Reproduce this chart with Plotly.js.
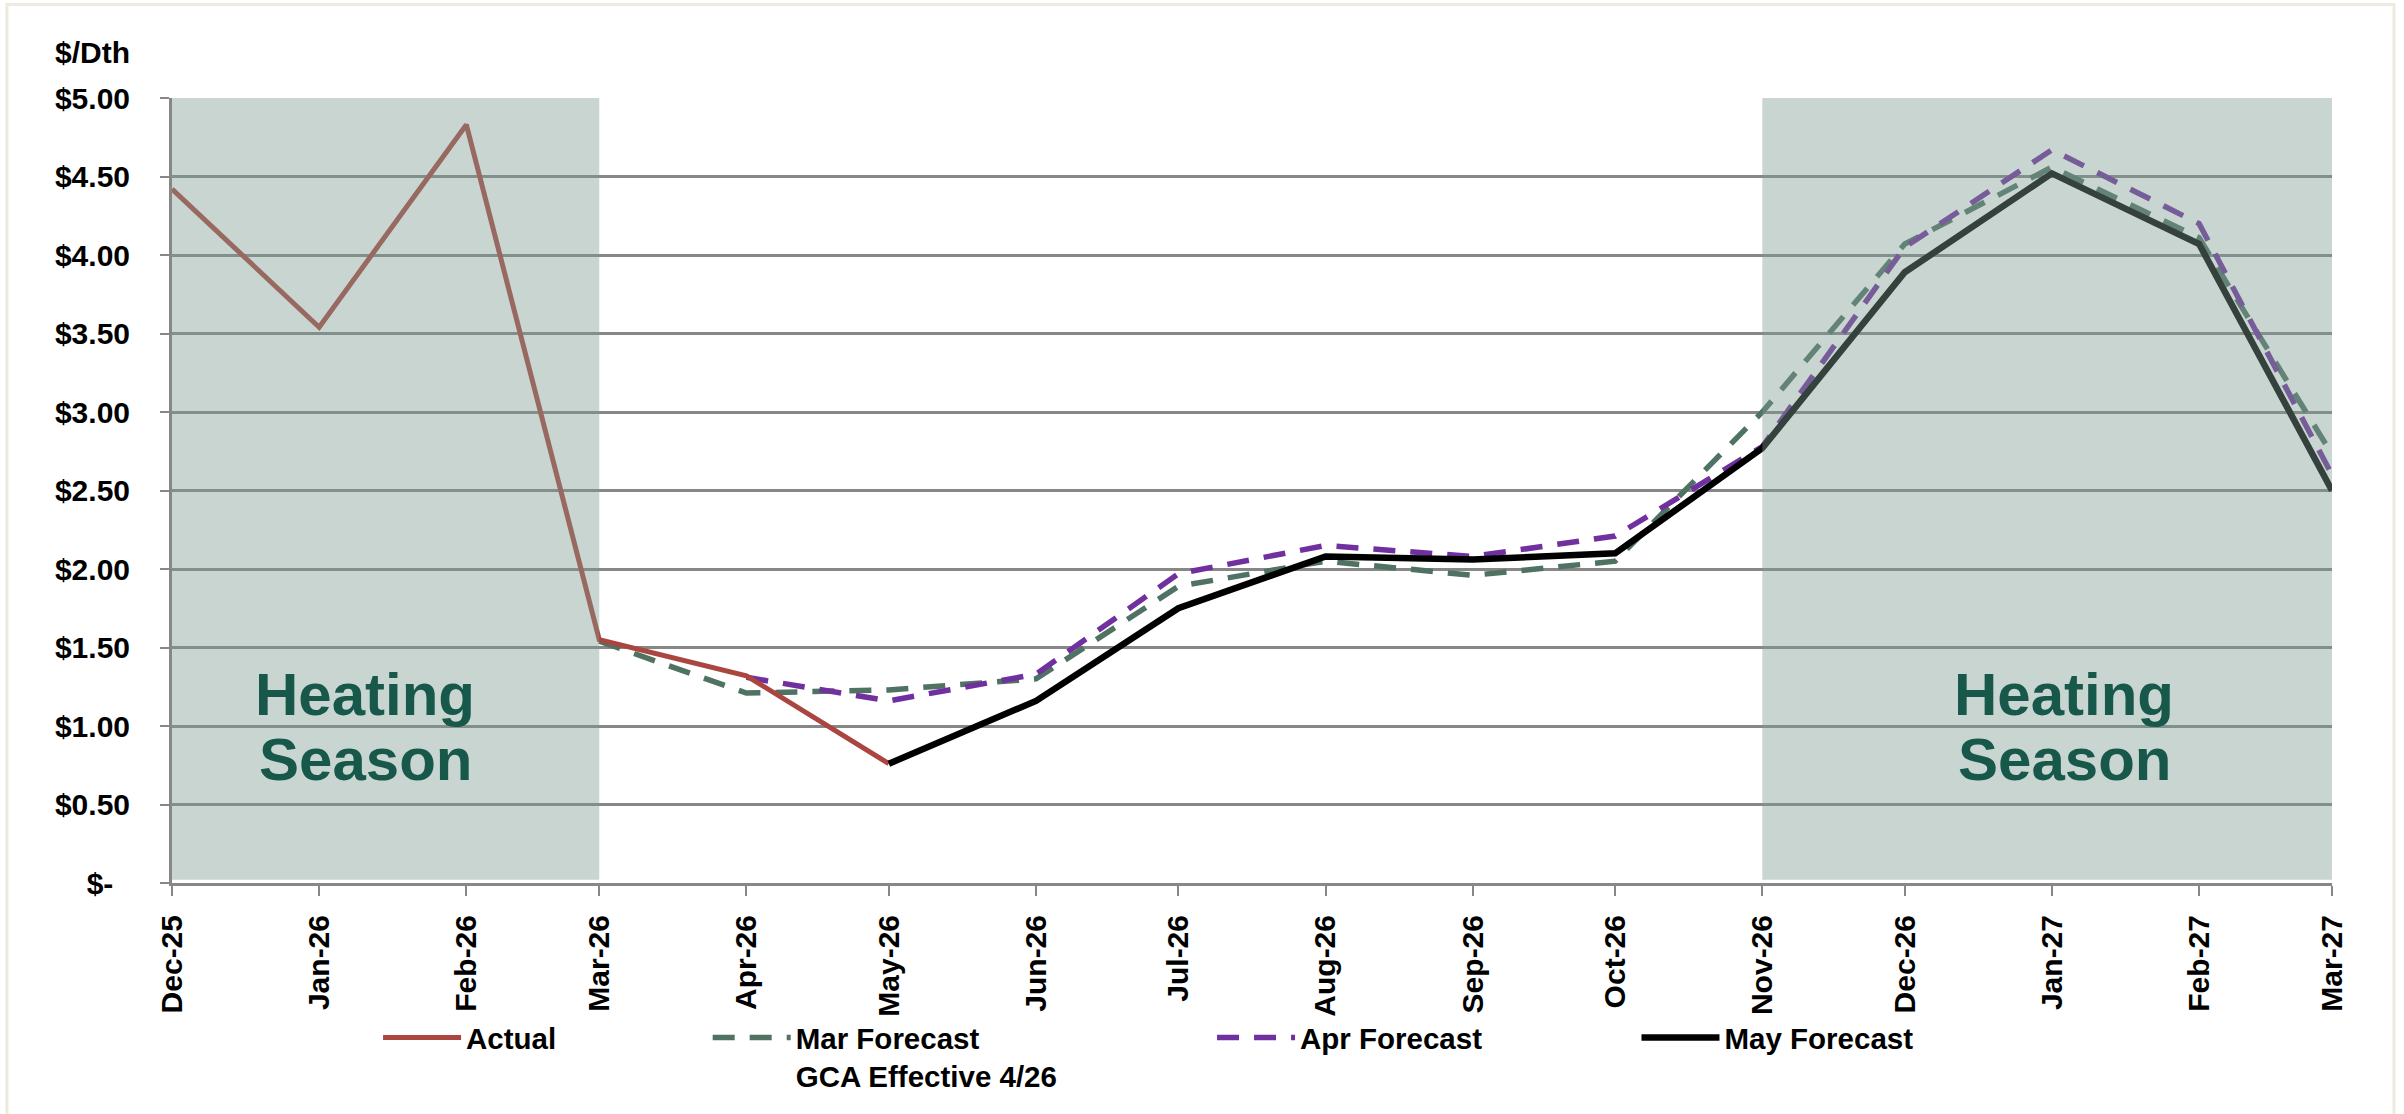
<!DOCTYPE html>
<html>
<head>
<meta charset="utf-8">
<script src="https://cdn.plot.ly/plotly-3.0.1.min.js"></script>
<style>
  html, body { margin: 0; padding: 0; background: #ffffff; }
  #chart { width: 2404px; height: 1114px; }
</style>
</head>
<body>
<div id="chart"></div>
<script>
// ---- Data ----
const months = ["2025-12-01","2026-01-01","2026-02-01","2026-03-01","2026-04-01","2026-05-01",
                "2026-06-01","2026-07-01","2026-08-01","2026-09-01","2026-10-01","2026-11-01",
                "2026-12-01","2027-01-01","2027-02-01","2027-03-01"];
const monthLabels = ["Dec-25","Jan-26","Feb-26","Mar-26","Apr-26","May-26","Jun-26","Jul-26",
                     "Aug-26","Sep-26","Oct-26","Nov-26","Dec-26","Jan-27","Feb-27","Mar-27"];

const actual      = [4.42, 3.54, 4.83, 1.55, 1.32, 0.76, null, null, null, null, null, null, null, null, null, null];
const marForecast = [null, null, null, 1.54, 1.21, 1.23, 1.30, 1.89, 2.05, 1.96, 2.05, 3.00, 4.07, 4.56, 4.11, 2.73];
const aprForecast = [null, null, null, null, 1.31, 1.16, 1.33, 1.97, 2.15, 2.08, 2.21, 2.78, 4.05, 4.67, 4.20, 2.60];
const mayForecast = [null, null, null, null, null, 0.76, 1.16, 1.75, 2.08, 2.06, 2.10, 2.77, 3.89, 4.52, 4.07, 2.50];

const yTickVals   = [0, 0.5, 1, 1.5, 2, 2.5, 3, 3.5, 4, 4.5, 5];
const yTickLabels = ["$-\u00a0\u00a0", "$0.50", "$1.00", "$1.50", "$2.00", "$2.50", "$3.00", "$3.50", "$4.00", "$4.50", "$5.00"];

const seriesNames = ["Actual", "Mar Forecast<br>GCA Effective 4/26", "Apr Forecast", "May Forecast"];
const heatingSeasons = [["2025-12-01", "2026-03-01"], ["2026-11-01", "2027-03-01"]];
const seasonWords = ["Heating", "Season"];
const unitLabel = "$/Dth";

// ---- Styling ----
const FONT = "Liberation Sans, Arial, sans-serif";
const GRID = "#878787";
const DASH = "22px,15px";

const traces = [
  { x: months, y: marForecast, name: seriesNames[1], type: "scatter", mode: "lines",
    line: { color: "#4f7262", width: 5.5, dash: DASH }, legend: "legend2" },
  { x: months, y: aprForecast, name: seriesNames[2], type: "scatter", mode: "lines",
    line: { color: "#7030a0", width: 5.5, dash: DASH }, legend: "legend3" },
  { x: months, y: actual, name: seriesNames[0], type: "scatter", mode: "lines",
    line: { color: "#ab4540", width: 5 }, legend: "legend" },
  { x: months, y: mayForecast, name: seriesNames[3], type: "scatter", mode: "lines",
    line: { color: "#000000", width: 6.5 }, legend: "legend4" }
];

const legendBase = {
  orientation: "h", xanchor: "left", yanchor: "top", y: -0.164,
  bgcolor: "rgba(0,0,0,0)", borderwidth: 0, itemwidth: 78, valign: "top",
  font: { family: FONT, size: 29.5, color: "#000", weight: "bold" }
};

const shapes = heatingSeasons.map((s, i) => ({
  type: "rect", xref: "x", yref: "y", x0: s[0], x1: s[1], y0: 0.02, y1: i === 0 ? 5 : 5.015,
  fillcolor: "rgba(126,155,143,0.42)", line: { width: 0 }, layer: "above"
}));
// light frame around the whole chart
shapes.push({ type: "rect", xref: "paper", yref: "paper", x0: -0.0764, x1: 1.0287, y0: -0.30, y1: 1.119,
  line: { color: "#eeeae0", width: 3 }, fillcolor: "rgba(0,0,0,0)", layer: "below" });

const seasonFont = { family: FONT, size: 60, color: "#17584b", weight: "bold" };
const seasonCenters = [0.0894, 0.876];
const seasonRowsY = [0.2395, 0.157];
const annotations = [];
seasonCenters.forEach(cx => {
  seasonWords.forEach((w, j) => {
    annotations.push({ xref: "paper", yref: "paper", x: cx, y: seasonRowsY[j], text: w, showarrow: false,
      xanchor: "center", yanchor: "middle", font: seasonFont });
  });
});
annotations.push({ xref: "paper", yref: "paper", x: -0.0185, y: 1.0584, text: unitLabel, showarrow: false,
  xanchor: "right", yanchor: "middle",
  font: { family: FONT, size: 30, color: "#000", weight: "bold" } });

const layout = {
  width: 2404, height: 1114,
  margin: { l: 172, r: 72, t: 98, b: 228, pad: 0 },
  paper_bgcolor: "#ffffff", plot_bgcolor: "#ffffff",
  showlegend: true,
  legend:  Object.assign({}, legendBase, { x: 0.0954 }),
  legend2: Object.assign({}, legendBase, { x: 0.248 }),
  legend3: Object.assign({}, legendBase, { x: 0.4815 }),
  legend4: Object.assign({}, legendBase, { x: 0.678 }),
  xaxis: {
    type: "date", range: [months[0], months[months.length - 1]],
    tickmode: "array", tickvals: months, ticktext: monthLabels, tickangle: -90,
    showgrid: false, zeroline: false, showline: true, linecolor: GRID, linewidth: 3,
    ticks: "outside", ticklen: 10, tickwidth: 2, tickcolor: GRID, ticklabelstandoff: 7,
    tickfont: { family: FONT, size: 30, color: "#000", weight: "bold" }, fixedrange: true
  },
  yaxis: {
    range: [0, 5.0001], tickmode: "array", tickvals: yTickVals, ticktext: yTickLabels,
    showgrid: true, gridcolor: GRID, gridwidth: 3, zeroline: false,
    showline: true, linecolor: GRID, linewidth: 3,
    ticks: "outside", ticklen: 9, tickwidth: 2, tickcolor: GRID, ticklabelstandoff: 24,
    tickfont: { family: FONT, size: 30, color: "#000", weight: "bold" }, fixedrange: true
  },
  shapes: shapes,
  annotations: annotations
};

Plotly.newPlot("chart", traces, layout, { displayModeBar: false, staticPlot: true });
</script>
</body>
</html>
